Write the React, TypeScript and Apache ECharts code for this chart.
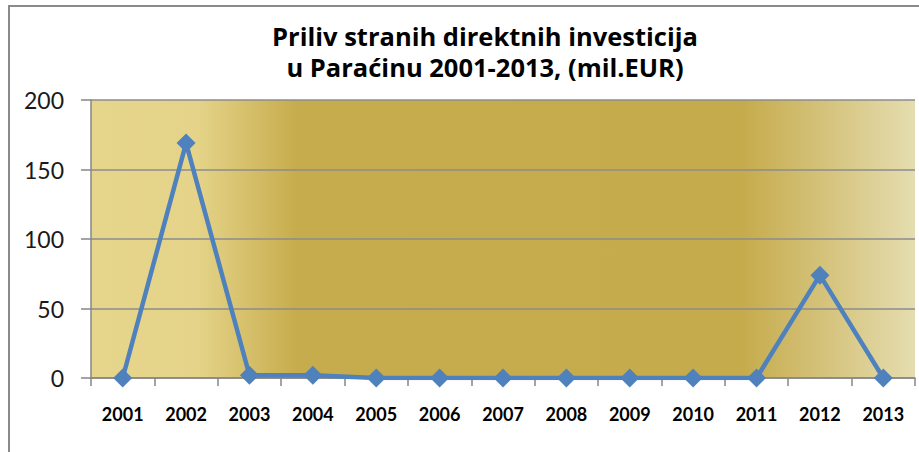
import React, { useEffect, useRef } from "react";
import * as echarts from "echarts";

const titleLines = ["Priliv stranih direktnih investicija", "u Paraćinu 2001-2013, (mil.EUR)"];
const years = ["2001", "2002", "2003", "2004", "2005", "2006", "2007", "2008", "2009", "2010", "2011", "2012", "2013"];
const inflow = [0, 169, 2, 2, 0, 0, 0, 0, 0, 0, 0, 74, 0];
const yTicks = { min: 0, max: 200, interval: 50 };

export default function App() {
  const ref = useRef<HTMLDivElement>(null);
  useEffect(() => {
    if (!ref.current) return;
    const chart = echarts.init(ref.current, undefined, { renderer: "svg" });
    const font = "Lato, 'Open Sans', sans-serif";
    const titleFont = "'Open Sans', Lato, sans-serif";
    chart.setOption({
      animation: false,
      backgroundColor: "#ffffff",
      graphic: [
        {
          type: "polyline",
          shape: { points: [[9, 452], [9, 6], [919, 6]] },
          style: { stroke: "#8a8a8a", lineWidth: 2, fill: "none" },
          silent: true,
        },
        {
          type: "text",
          x: 485,
          y: 36,
          style: {
            text: titleLines[0],
            font: `bold 25.5px ${titleFont}`,
            fill: "#000000",
            align: "center",
            verticalAlign: "middle",
          },
        },
        {
          type: "text",
          x: 485,
          y: 67,
          style: {
            text: titleLines[1],
            font: `bold 25.5px ${titleFont}`,
            fill: "#000000",
            align: "center",
            verticalAlign: "middle",
          },
        },
      ],
      grid: {
        left: 91,
        right: 4,
        top: 100,
        bottom: 74,
        show: true,
        borderWidth: 0,
        backgroundColor: new echarts.graphic.LinearGradient(0, 0, 1, 0, [
          { offset: 0, color: "#e6d68b" },
          { offset: 0.13, color: "#e4d388" },
          { offset: 0.25, color: "#c7ac4d" },
          { offset: 0.79, color: "#c6ab4c" },
          { offset: 1, color: "#e5ddb0" },
        ]),
      },
      xAxis: {
        type: "category",
        data: years,
        boundaryGap: true,
        axisLine: { show: true, lineStyle: { color: "#868686", width: 1.5 } },
        axisTick: { show: true, length: 8, lineStyle: { color: "#868686", width: 1.5 } },
        axisLabel: {
          margin: 27,
          fontFamily: font,
          fontWeight: "bold",
          fontSize: 18,
          color: "#000000",
        },
        splitLine: { show: false },
      },
      yAxis: {
        type: "value",
        min: yTicks.min,
        max: yTicks.max,
        interval: yTicks.interval,
        axisLine: { show: true, lineStyle: { color: "#868686", width: 1.5 } },
        axisTick: { show: true, length: 10, lineStyle: { color: "#868686", width: 1.5 } },
        axisLabel: {
          margin: 27,
          fontFamily: font,
          fontSize: 23,
          color: "#1a1a1a",
        },
        splitLine: { show: true, lineStyle: { color: "#8c8c8c", width: 1.5 } },
      },
      series: [
        {
          type: "line",
          data: inflow,
          symbol: "diamond",
          symbolSize: 19,
          showAllSymbol: true,
          lineStyle: { color: "#4f81bd", width: 4.5 },
          itemStyle: { color: "#4f81bd" },
          z: 3,
        },
      ],
    });
    return () => chart.dispose();
  }, []);
  return (
    <div
      ref={ref}
      style={{ position: "absolute", left: 0, top: 0, width: 919, height: 452, background: "#fff" }}
    />
  );
}
